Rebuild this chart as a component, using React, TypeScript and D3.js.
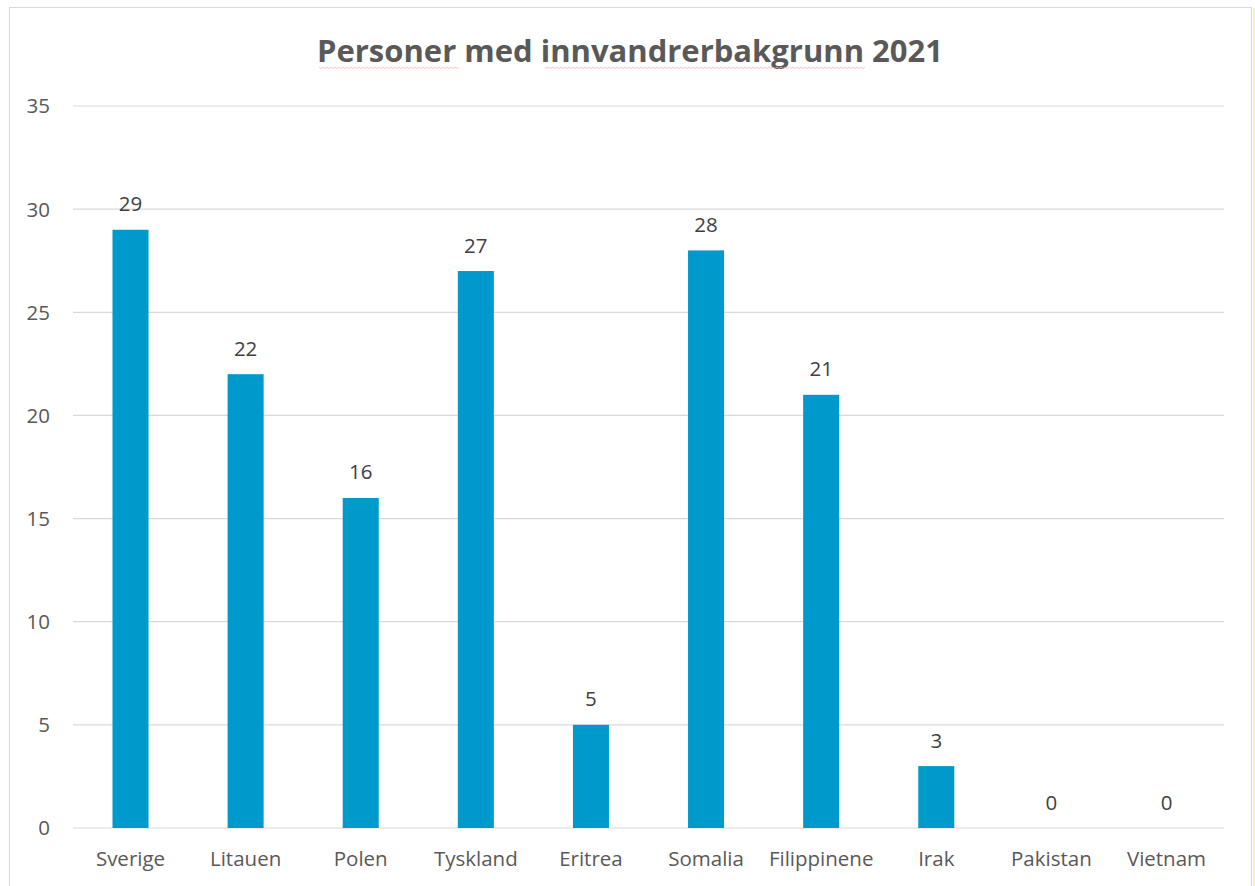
import React from "react";
import * as d3 from "d3";

const categories = ["Sverige", "Litauen", "Polen", "Tyskland", "Eritrea", "Somalia", "Filippinene", "Irak", "Pakistan", "Vietnam"];
const values = [29, 22, 16, 27, 5, 28, 21, 3, 0, 0];
const yTicks = [0, 5, 10, 15, 20, 25, 30, 35];
const title = "Personer med innvandrerbakgrunn 2021";

const W = 1255;
const H = 886;
const FONT = "'Open Sans', Lato, sans-serif";

export default function App() {
  const x = d3.scaleBand<string>().domain(categories).range([73, 1224]).paddingInner(0.687).paddingOuter(0.343);
  const y = d3.scaleLinear().domain([0, 35]).range([828, 106]);
  const wave = (x0: number, x1: number, yy: number) => {
    let d = `M${x0},${yy}`;
    for (let xi = x0; xi < x1; xi += 4) d += ` L${xi + 2},${yy + 1.5} L${xi + 4},${yy}`;
    return d;
  };
  return (
    <svg width={W} height={H} style={{ position: "absolute", left: 0, top: 0, background: "#fff" }}>
      <rect x={9.5} y={7.5} width={1242} height={H} fill="#fff" stroke="#d9d9d9" strokeWidth={1} />
      <line x1={1254} x2={1254} y1={8} y2={H} stroke="#f2f28c" strokeWidth={1.5} />
      <text x={630} y={62} textAnchor="middle" fontFamily={FONT} fontWeight={700} fontSize={31} fill="#595959">
        {title}
      </text>
      <path d={wave(319, 457, 67)} fill="none" stroke="#f4b8b8" strokeWidth={0.8} />
      <path d={wave(545, 863, 67)} fill="none" stroke="#f4b8b8" strokeWidth={0.8} />
      {yTicks.map((t) => (
        <g key={t}>
          <line x1={73} x2={1224} y1={y(t)} y2={y(t)} stroke="#d9d9d9" strokeWidth={1.2} />
          <text x={50} y={y(t)} dy="0.36em" textAnchor="end" fontFamily={FONT} fontSize={20.5} fill="#595959">
            {t}
          </text>
        </g>
      ))}
      {categories.map((c, i) => (
        <g key={c}>
          <rect x={x(c)} y={y(values[i])} width={x.bandwidth()} height={y(0) - y(values[i])} fill="#0099cc" />
          <text x={(x(c) as number) + x.bandwidth() / 2} y={y(values[i]) - 18.5} textAnchor="middle" fontFamily={FONT} fontSize={20.5} fill="#404040">
            {values[i]}
          </text>
          <text x={(x(c) as number) + x.bandwidth() / 2} y={866} textAnchor="middle" fontFamily={FONT} fontSize={20.5} fill="#595959">
            {c}
          </text>
        </g>
      ))}
    </svg>
  );
}
